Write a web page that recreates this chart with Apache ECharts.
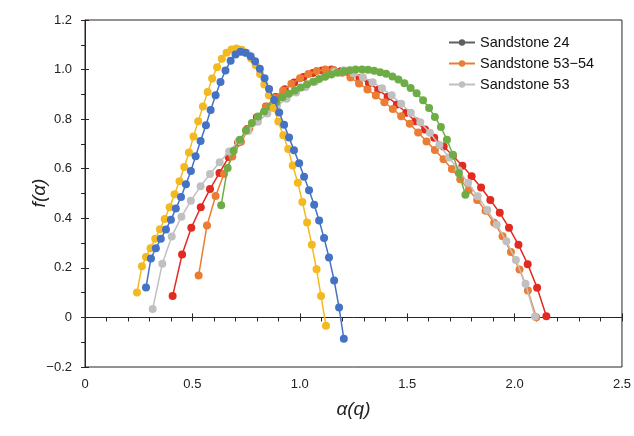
<!DOCTYPE html>
<html>
<head>
<meta charset="utf-8">
<script src="https://cdn.jsdelivr.net/npm/echarts@6/dist/echarts.min.js"></script>
<style>html,body{margin:0;padding:0;background:#fff;}#c{width:634px;height:436px;}</style>
</head>
<body>
<div id="c"></div>
<script>
// ---- data ----
const legendNames = ['Sandstone 24', 'Sandstone 53\u221254', 'Sandstone 53'];
const xTickLabels = ['0', '0.5', '1.0', '1.5', '2.0', '2.5'];
const yTickLabels = ['\u22120.2', '0', '0.2', '0.4', '0.6', '0.8', '1.0', '1.2'];
const xTitle = '\u03b1(q)';
const yTitle = 'f(\u03b1)';

const blueAlpha = [0.284,0.307,0.330,0.353,0.377,0.400,0.423,0.447,0.470,0.493,0.515,0.538,0.563,0.585,0.608,0.631,0.654,0.678,0.701,0.724,0.747,0.771,0.792,0.814,0.836,0.857,0.881,0.904,0.927,0.950,0.973,0.997,1.020,1.043,1.067,1.090,1.113,1.136,1.160,1.183,1.205];
const blueF = [0.121,0.238,0.279,0.317,0.355,0.394,0.439,0.486,0.537,0.591,0.650,0.712,0.775,0.837,0.896,0.950,0.996,1.036,1.061,1.072,1.068,1.054,1.034,1.003,0.965,0.922,0.877,0.827,0.777,0.726,0.675,0.622,0.568,0.513,0.455,0.391,0.320,0.242,0.149,0.040,-0.086];

const yellowAlpha = [0.242,0.265,0.284,0.305,0.327,0.349,0.371,0.394,0.417,0.440,0.462,0.484,0.505,0.527,0.549,0.571,0.592,0.615,0.637,0.659,0.682,0.705,0.729,0.752,0.774,0.795,0.815,0.835,0.856,0.878,0.900,0.923,0.946,0.967,0.991,1.012,1.034,1.056,1.078,1.099,1.122];
const yellowF = [0.101,0.206,0.244,0.279,0.317,0.356,0.397,0.445,0.497,0.549,0.607,0.665,0.730,0.791,0.851,0.910,0.964,1.009,1.044,1.068,1.081,1.085,1.080,1.068,1.045,1.017,0.982,0.940,0.896,0.845,0.790,0.735,0.680,0.613,0.543,0.466,0.383,0.293,0.194,0.086,-0.034];

const grayAlpha = [0.315,0.360,0.404,0.449,0.493,0.538,0.582,0.627,0.671,0.716,0.760,0.805,0.849,0.894,0.938,0.983,1.027,1.072,1.116,1.161,1.205,1.250,1.294,1.339,1.383,1.428,1.472,1.517,1.561,1.606,1.650,1.695,1.739,1.784,1.828,1.873,1.917,1.962,2.006,2.051,2.095];
const grayF = [0.034,0.217,0.327,0.406,0.471,0.529,0.579,0.626,0.669,0.712,0.752,0.789,0.823,0.854,0.882,0.907,0.930,0.951,0.970,0.990,0.997,0.985,0.969,0.949,0.925,0.896,0.862,0.826,0.787,0.745,0.696,0.645,0.594,0.543,0.489,0.433,0.374,0.307,0.232,0.136,0.004];

const redAlpha = [0.408,0.452,0.495,0.539,0.582,0.626,0.669,0.713,0.756,0.800,0.843,0.887,0.930,0.974,1.017,1.061,1.104,1.148,1.191,1.235,1.278,1.322,1.365,1.409,1.452,1.496,1.539,1.583,1.626,1.670,1.713,1.757,1.800,1.844,1.887,1.931,1.974,2.018,2.061,2.105,2.148];
const redF = [0.086,0.254,0.362,0.445,0.518,0.583,0.647,0.706,0.760,0.808,0.851,0.889,0.921,0.948,0.970,0.986,0.996,1.000,0.993,0.982,0.966,0.945,0.919,0.890,0.859,0.826,0.791,0.758,0.725,0.690,0.652,0.612,0.570,0.524,0.474,0.422,0.362,0.293,0.215,0.120,0.005];

const orangeAlpha = [0.529,0.568,0.608,0.647,0.686,0.726,0.765,0.804,0.843,0.883,0.922,0.961,1.001,1.040,1.079,1.119,1.158,1.197,1.236,1.276,1.315,1.354,1.394,1.433,1.472,1.512,1.551,1.590,1.629,1.669,1.708,1.747,1.787,1.826,1.865,1.905,1.944,1.983,2.023,2.062,2.101];
const orangeF = [0.169,0.371,0.490,0.579,0.649,0.709,0.762,0.808,0.849,0.885,0.916,0.943,0.965,0.982,0.994,1.000,0.998,0.987,0.968,0.944,0.920,0.895,0.868,0.841,0.812,0.781,0.746,0.710,0.676,0.638,0.599,0.557,0.514,0.474,0.430,0.382,0.328,0.264,0.193,0.109,0.001];

const greenAlpha = [0.634,0.664,0.692,0.721,0.749,0.777,0.806,0.834,0.864,0.892,0.919,0.949,0.977,1.005,1.034,1.062,1.090,1.119,1.147,1.175,1.205,1.233,1.260,1.290,1.318,1.346,1.374,1.402,1.431,1.459,1.487,1.516,1.544,1.574,1.602,1.629,1.657,1.685,1.713,1.741,1.771];
const greenF = [0.453,0.603,0.672,0.717,0.754,0.784,0.811,0.831,0.851,0.869,0.888,0.902,0.916,0.928,0.941,0.951,0.962,0.972,0.980,0.987,0.993,0.997,1.000,1.000,0.999,0.995,0.989,0.983,0.972,0.960,0.945,0.926,0.904,0.876,0.845,0.809,0.768,0.717,0.656,0.582,0.495];

// ---- build ----
function pairs(a, f) { return a.map((v, i) => [v, f[i]]); }
const curves = [
  { name: 'c-red', color: '#E22A20', a: redAlpha, f: redF },
  { name: 'c-orange', color: '#EB7C34', a: orangeAlpha, f: orangeF },
  { name: 'c-gray', color: '#C0C0C0', a: grayAlpha, f: grayF },
  { name: 'c-green', color: '#6EAD46', a: greenAlpha, f: greenF },
  { name: 'c-yellow', color: '#F4B920', a: yellowAlpha, f: yellowF },
  { name: 'c-blue', color: '#4472C4', a: blueAlpha, f: blueF }
];
const legendColors = ['#5F5F5F', '#EB7C34', '#BFBFBF'];

const series = curves.map((c, k) => ({
  name: c.name, type: 'line', data: pairs(c.a, c.f),
  symbol: 'circle', symbolSize: 8, showSymbol: true,
  lineStyle: { color: c.color, width: 1.5 },
  itemStyle: { color: c.color },
  animation: false, z: 2 + k * 0.01
}));
legendNames.forEach((n, i) => series.push({
  name: n, type: 'line', data: [], symbol: 'circle', symbolSize: 8,
  lineStyle: { color: legendColors[i], width: 1.5 }, itemStyle: { color: legendColors[i] }
}));

const axisColor = '#2B2222';
const font = 'Liberation Sans, Arial, sans-serif';
const chart = echarts.init(document.getElementById('c'), null, { renderer: 'canvas' });
chart.setOption({
  animation: false,
  grid: { left: 85, right: 11, top: 20, bottom: 69, show: true, borderColor: axisColor, borderWidth: 1 },
  legend: {
    data: legendNames, orient: 'vertical', left: 443, top: 30, itemGap: 6,
    itemWidth: 26, itemHeight: 8,
    textStyle: { fontSize: 14.5, color: '#111', fontFamily: font }
  },
  graphic: [{
    type: 'text', x: 40, y: 193, rotation: Math.PI / 2,
    style: { text: yTitle, fontSize: 19, fontStyle: 'italic', fontFamily: font, fill: '#222',
             textAlign: 'center', textVerticalAlign: 'middle', align: 'center', verticalAlign: 'middle' }
  }],
  xAxis: [{
    type: 'value', min: 0, max: 2.5, interval: 0.5,
    axisLine: { show: true, lineStyle: { color: axisColor } },
    axisTick: { show: true, length: 4, lineStyle: { color: axisColor } },
    minorTick: { show: true, splitNumber: 5, length: 4, lineStyle: { color: axisColor } },
    splitLine: { show: false },
    axisLabel: { formatter: (v, i) => xTickLabels[i], fontSize: 13, color: '#222', fontFamily: font, margin: 11 },
    name: xTitle, nameLocation: 'middle', nameGap: 33,
    nameTextStyle: { fontSize: 19, fontStyle: 'italic', color: '#222', fontFamily: font }
  }, {
    type: 'value', min: 0, max: 2.5, interval: 0.5, position: 'bottom',
    axisLine: { show: false },
    axisTick: { show: true, inside: true, length: 4, lineStyle: { color: axisColor } },
    axisLabel: { show: false }, splitLine: { show: false }
  }],
  yAxis: [{
    type: 'value', min: -0.2, max: 1.2, interval: 0.2,
    axisLine: { show: true, lineStyle: { color: axisColor } },
    axisTick: { show: true, length: 4, lineStyle: { color: axisColor } },
    minorTick: { show: true, splitNumber: 2, length: 4, lineStyle: { color: axisColor } },
    splitLine: { show: false },
    axisLabel: { formatter: (v, i) => yTickLabels[i], fontSize: 13, color: '#222', fontFamily: font, margin: 13 }
  }, {
    type: 'value', min: -0.2, max: 1.2, interval: 0.2, position: 'left',
    axisLine: { show: false },
    axisTick: { show: true, inside: true, length: 4, lineStyle: { color: axisColor } },
    axisLabel: { show: false }, splitLine: { show: false }
  }],
  series: series
});
</script>
</body>
</html>
